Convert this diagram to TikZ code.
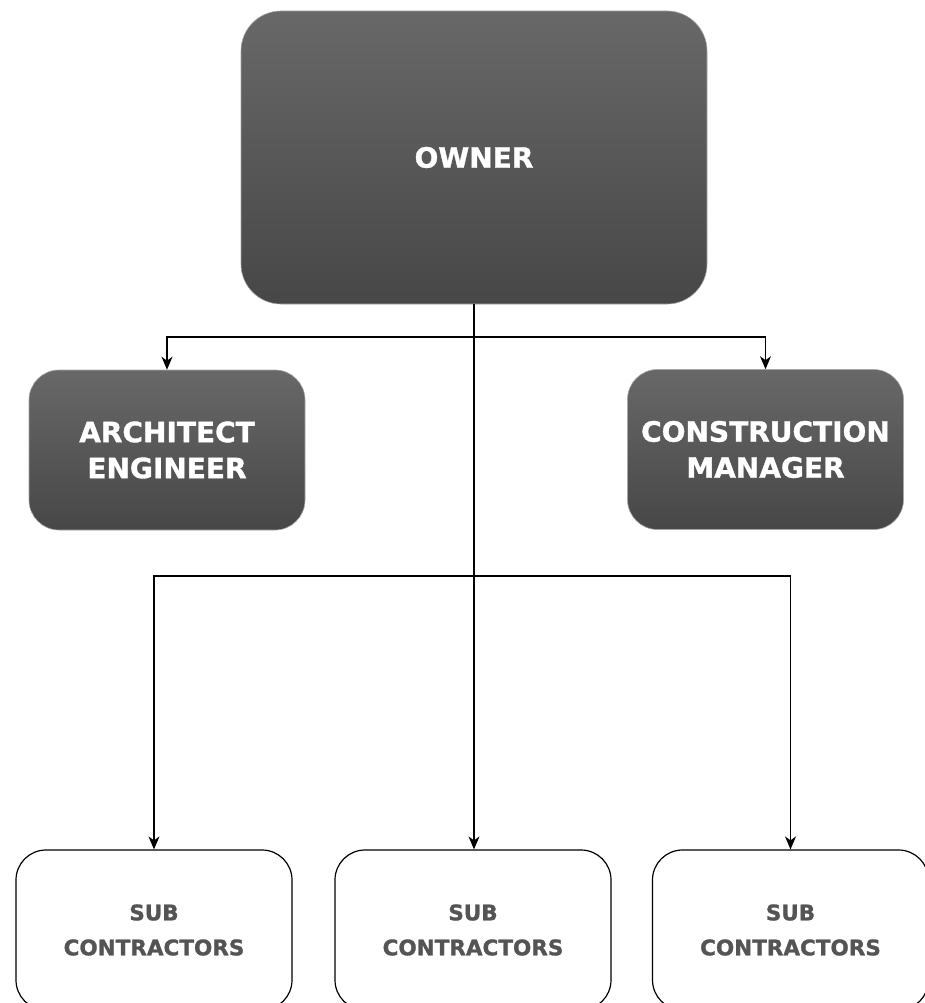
\documentclass[tikz,border=0pt]{standalone}
\usepackage{fontspec}
\setmainfont{DejaVu Sans}[BoldFont={DejaVu Sans Bold}, BoldFeatures={FakeBold=1.2}]
\usetikzlibrary{arrows.meta}
\definecolor{boxtop}{HTML}{686868}
\definecolor{boxbot}{HTML}{474747}
\definecolor{subtext}{HTML}{545454}
\tikzset{
  darkbox/.style={rounded corners=30pt, top color=boxtop, bottom color=boxbot,
    draw=gray!70, line width=0.6pt, text=white, align=center,
    font=\fontsize{28}{36}\selectfont\bfseries, inner sep=0pt},
  subbox/.style={rounded corners=30pt, draw=black, fill=white, line width=1.2pt,
    text=subtext, align=center, minimum width=276pt, minimum height=160pt,
    font=\fontsize{21.5}{35}\selectfont\bfseries, inner sep=0pt},
  link/.style={line width=1.2pt},
  linkarrow/.style={link, -{Stealth[length=13pt,width=11pt,inset=4pt]}}
}
\begin{document}
\begin{tikzpicture}[x=1pt,y=-1pt]
  \clip (0,0) rectangle (925,1003);
  \fill[white] (0,0) rectangle (925,1003);
  \node[darkbox, rounded corners=40pt, minimum width=466pt, minimum height=293pt] (owner) at (474,157.5) {OWNER};
  \node[darkbox, minimum width=276pt, minimum height=160pt] (archeng) at (167,450) {ARCHITECT\\ENGINEER};
  \node[darkbox, minimum width=276pt, minimum height=160pt] (conman) at (765.5,449.5) {CONSTRUCTION\\MANAGER};
  \node[subbox] (sub1) at (154,930) {SUB\\CONTRACTORS};
  \node[subbox] (sub2) at (473,930) {SUB\\CONTRACTORS};
  \node[subbox] (sub3) at (790.5,930) {SUB\\CONTRACTORS};
  \coordinate (split1) at (474,337);
  \coordinate (split2) at (474,576);
  \begin{scope}[link]
    \draw (owner.south) -- (split2);
    \draw[linkarrow] (split1) -| (archeng.north);
    \draw[linkarrow] (split1) -| (conman.north);
    \draw[linkarrow] (split2) -| (sub1.north);
    \draw[linkarrow] (split2) -- (sub2.north -| split2);
    \draw[linkarrow] (split2) -| (sub3.north);
  \end{scope}
\end{tikzpicture}
\end{document}
